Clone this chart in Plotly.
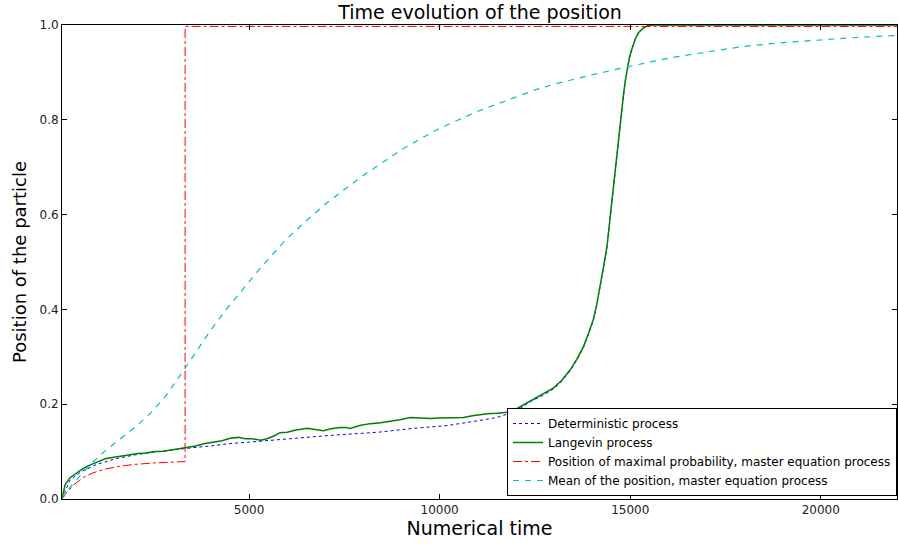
import plotly.graph_objects as go

# ---- data ----
det_t = [90, 300, 600, 1000, 1500, 2000, 2500, 3000, 3500, 4000, 4500, 5000, 5800, 6500, 7100,
         7800, 8400, 9300, 10200, 11000, 11500, 12000, 12370, 12700, 12980, 13200, 13420, 13600,
         13770, 13900, 14030, 14120, 14210, 14300, 14390, 14480, 14560, 14630, 14690, 14760,
         14820, 14870, 14920, 14980, 15050, 15130, 15210, 15330, 15450, 15600, 22000]
det_x = [0.0, 0.04, 0.058, 0.073, 0.085, 0.093, 0.099, 0.104, 0.108, 0.112, 0.117, 0.12, 0.126,
         0.13, 0.134, 0.137, 0.141, 0.149, 0.155, 0.165, 0.172, 0.185, 0.205, 0.218, 0.232, 0.248,
         0.27, 0.293, 0.319, 0.346, 0.376, 0.408, 0.446, 0.488, 0.531, 0.598, 0.658, 0.713, 0.764,
         0.808, 0.849, 0.88, 0.907, 0.93, 0.95, 0.969, 0.982, 0.992, 0.998, 1.0, 1.0]

lan_t = [90, 170, 300, 430, 600, 775, 1000, 1220, 1450, 1660, 1900, 2090, 2300, 2530, 2750, 2980,
         3200, 3400, 3600, 3840, 4050, 4290, 4500, 4720, 4900, 5080, 5300, 5470, 5650, 5810, 6000,
         6200, 6520, 6750, 6950, 7150, 7390, 7550, 7650, 7900, 8180, 8450, 8700, 8950, 9230, 9500,
         9750, 10000, 10280, 10620, 10900, 11250, 11500, 11770, 12030, 12370, 12700, 12980, 13200,
         13420, 13600, 13770, 13900, 14030, 14120, 14210, 14300, 14390, 14480, 14560, 14630, 14690,
         14760, 14820, 14870, 14920, 14980, 15050, 15130, 15210, 15330, 15450, 15600, 22000]
lan_x = [0.0, 0.03, 0.045, 0.053, 0.062, 0.07, 0.078, 0.085, 0.088, 0.091, 0.094, 0.096, 0.097,
         0.1, 0.101, 0.104, 0.106, 0.108, 0.112, 0.117, 0.12, 0.123, 0.128, 0.13, 0.127, 0.127,
         0.124, 0.127, 0.133, 0.14, 0.141, 0.145, 0.149, 0.146, 0.144, 0.148, 0.151, 0.151, 0.149,
         0.155, 0.159, 0.161, 0.164, 0.167, 0.172, 0.171, 0.17, 0.171, 0.172, 0.172, 0.176, 0.18,
         0.181, 0.183, 0.191, 0.206, 0.22, 0.234, 0.25, 0.272, 0.295, 0.321, 0.348, 0.378, 0.41,
         0.448, 0.49, 0.533, 0.6, 0.66, 0.715, 0.766, 0.81, 0.851, 0.882, 0.909, 0.932, 0.951,
         0.97, 0.983, 0.993, 0.998, 1.0, 1.0]

maxp_t = [90, 200, 400, 640, 900, 1220, 1600, 2000, 2500, 3000, 3320, 3320, 22000]
maxp_x = [0.0, 0.012, 0.03, 0.045, 0.055, 0.063, 0.069, 0.073, 0.076, 0.078, 0.079, 0.997, 0.997]

mean_t = [90, 300, 600, 900, 1200, 1600, 2000, 2400, 2800, 3200, 3600, 4000, 4400, 4800, 5200,
          5600, 6000, 6500, 7000, 7500, 8000, 8500, 9000, 9500, 10000, 10500, 11000, 11500,
          12000, 12500, 13000, 14000, 15000, 16000, 17000, 18000, 19000, 20000, 21000, 22000]
mean_x = [0.0, 0.025, 0.052, 0.078, 0.1, 0.125, 0.151, 0.18, 0.216, 0.262, 0.31, 0.357, 0.4,
          0.44, 0.478, 0.515, 0.55, 0.587, 0.622, 0.653, 0.683, 0.71, 0.737, 0.76, 0.782, 0.8,
          0.818, 0.833, 0.848, 0.863, 0.875, 0.895, 0.913, 0.93, 0.943, 0.955, 0.963, 0.969,
          0.974, 0.978]

x_ticks = [5000, 10000, 15000, 20000]
y_ticks = [0.0, 0.2, 0.4, 0.6, 0.8, 1.0]

FONT = "DejaVu Sans"

fig = go.Figure()
fig.add_trace(go.Scatter(x=det_t, y=det_x, mode="lines", name="Deterministic process",
                         line=dict(color="#0000ff", width=1, dash="dot")))
fig.add_trace(go.Scatter(x=lan_t, y=lan_x, mode="lines", name="Langevin process",
                         line=dict(color="#008000", width=1.5)))
fig.add_trace(go.Scatter(x=maxp_t, y=maxp_x, mode="lines",
                         name="Position of maximal probability, master equation process",
                         line=dict(color="#ff0000", width=1, dash="dashdot")))
fig.add_trace(go.Scatter(x=mean_t, y=mean_x, mode="lines",
                         name="Mean of the position, master equation process",
                         line=dict(color="#00bfbf", width=1.2, dash="6px,6px")))

axis_common = dict(showline=True, linecolor="black", linewidth=1, mirror="allticks",
                   ticks="inside", ticklen=5, tickcolor="black", showgrid=False, zeroline=False,
                   tickfont=dict(family=FONT, size=12, color="#222222"))

fig.update_layout(
    width=898, height=545,
    margin=dict(l=62, r=1, t=25, b=46),
    paper_bgcolor="white", plot_bgcolor="white",
    font=dict(family=FONT, color="black"),
    title=dict(text="Time evolution of the position", x=480 / 898, xanchor="center",
               y=1 - 12 / 545, yanchor="middle", font=dict(family=FONT, size=19, color="black")),
    xaxis=dict(range=[90, 22000], tickvals=x_ticks, ticktext=[str(v) for v in x_ticks],
               title=dict(text="Numerical time", font=dict(family=FONT, size=19), standoff=3),
               **axis_common),
    yaxis=dict(range=[0, 1.0], tickvals=y_ticks, ticktext=[f"{v:.1f}" for v in y_ticks],
               title=dict(text="Position of the particle", font=dict(family=FONT, size=18), standoff=8),
               **axis_common),
    legend=dict(x=1, xanchor="right", y=3 / 474, yanchor="bottom", bgcolor="white",
                bordercolor="black", borderwidth=1, font=dict(family=FONT, size=12, color="black")),
    showlegend=True,
)
fig.update_xaxes(automargin=False)
fig.update_yaxes(automargin=False)

# remove the browser's default 8px body margin so the figure fills the window exactly
fig.write_html("out.html", config={"displayModeBar": False},
               post_script="document.body.style.margin='0';document.body.style.overflow='hidden';")
